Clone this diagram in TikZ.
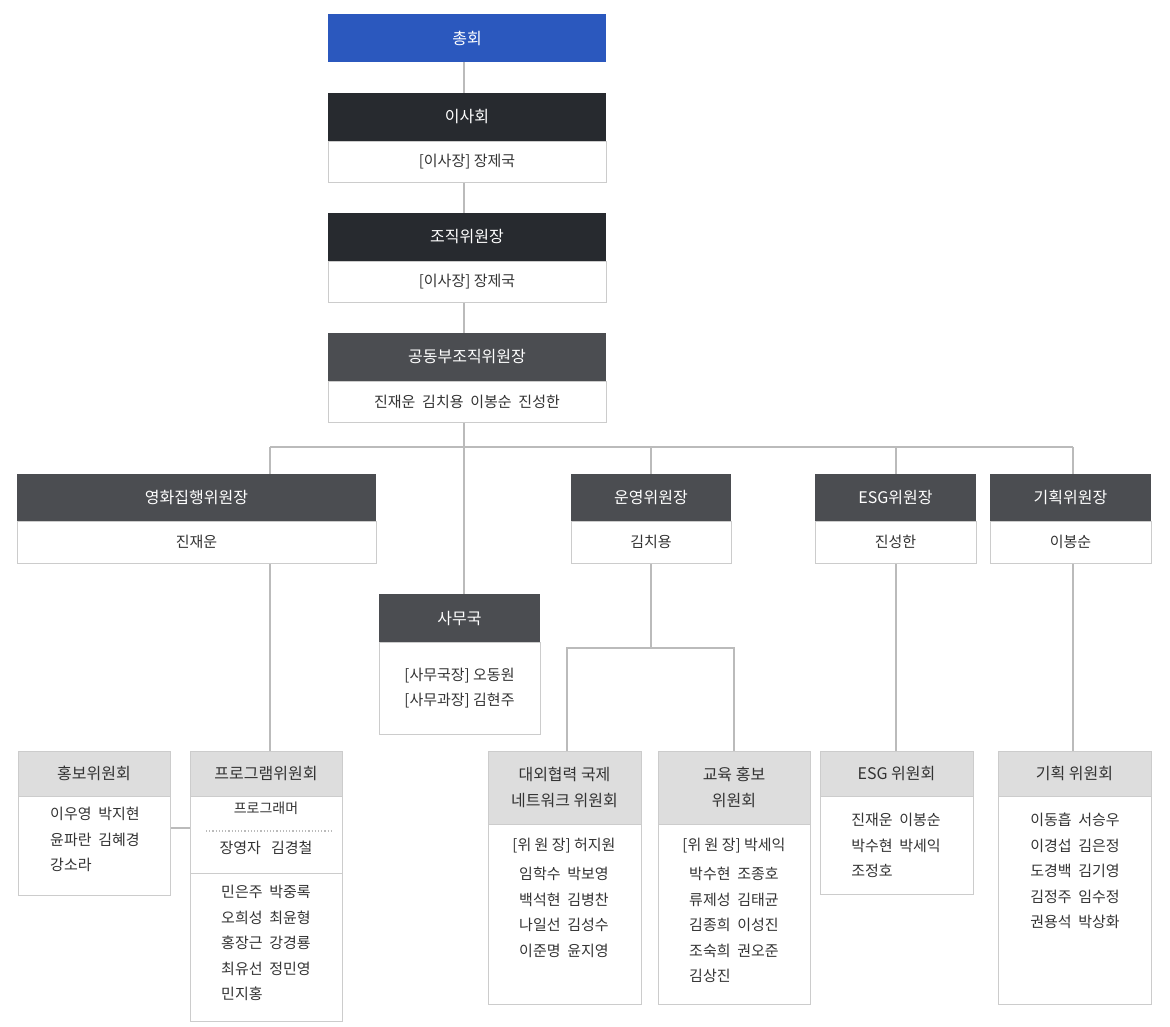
\documentclass[tikz,border=0pt]{standalone}
\usepackage{fontspec}
\setmainfont{Noto Sans CJK KR}
\definecolor{cblue}{HTML}{2B58BE}
\definecolor{cdark}{HTML}{272A2F}
\definecolor{cmid}{HTML}{4B4D51}
\definecolor{chead}{HTML}{DDDDDD}
\definecolor{cbord}{HTML}{CCCCCC}
\definecolor{cline}{HTML}{BBBBBB}
\definecolor{ctext}{HTML}{333333}
\begin{document}
\begin{tikzpicture}[x=1pt,y=-1pt,
  bx/.style={draw=cbord,line width=0.8pt,anchor=north west,inner sep=0pt,outer sep=0pt,align=center,text=ctext,font=\fontsize{15}{25.5}\selectfont},
  hd/.style={bx,draw=none,text=white,font=\fontsize{16}{24}\selectfont},
  gh/.style={bx,fill=chead,draw=cbord,font=\fontsize{16}{26}\selectfont},
  txt/.style={anchor=north,inner sep=0pt,align=left,text=ctext,font=\fontsize{15}{25.5}\selectfont},
  ln/.style={draw=cline,line width=1.6pt}]
\useasboundingbox[fill=white] (0,0) rectangle (1170,1026);
% connectors first
\coordinate (h1) at (270,447); \coordinate (h2) at (1073,447);
\draw[ln] (464,62) -- (464,594);
\draw[ln] (h1) -- (h2);
\draw[ln] (h1) -- (270,751);
\draw[ln] (651,447) -- (651,648);
\draw[ln] (567,751) -- (567,648) -- (734,648) -- (734,751);
\draw[ln] (896,447) -- (896,751);
\draw[ln] (1073,447) -- (1073,751);
\draw[ln] (170,828) -- (190,828);
% top chain
\node[hd,fill=cblue,minimum width=278,minimum height=48] (chonghoe) at (328,14) {총회};
\node[hd,fill=cdark,minimum width=278,minimum height=48] (isa) at (328,93) {이사회};
\node[bx,fill=white,minimum width=278,minimum height=41] (isab) at (328,141) {[이사장] 장제국};
\node[hd,fill=cdark,minimum width=278,minimum height=48] (jojik) at (328,213) {조직위원장};
\node[bx,fill=white,minimum width=278,minimum height=41] (jojikb) at (328,261) {[이사장] 장제국};
\node[hd,fill=cmid,minimum width=278,minimum height=48] (gong) at (328,333) {공동부조직위원장};
\node[bx,fill=white,minimum width=278,minimum height=41] (gongb) at (328,381) {진재운\ \ 김치용\ \ 이봉순\ \ 진성한};
% second level
\node[hd,fill=cmid,minimum width=359,minimum height=47] (yh) at (17,474) {영화집행위원장};
\node[bx,fill=white,minimum width=359,minimum height=42] (yhb) at (17,521) {진재운};
\node[hd,fill=cmid,minimum width=160,minimum height=47] (uy) at (571,474) {운영위원장};
\node[bx,fill=white,minimum width=160,minimum height=42] (uyb) at (571,521) {김치용};
\node[hd,fill=cmid,minimum width=161,minimum height=47] (esg) at (815,474) {ESG위원장};
\node[bx,fill=white,minimum width=161,minimum height=42] (esgb) at (815,521) {진성한};
\node[hd,fill=cmid,minimum width=161,minimum height=47] (gh) at (990,474) {기획위원장};
\node[bx,fill=white,minimum width=161,minimum height=42] (ghb) at (990,521) {이봉순};
\node[hd,fill=cmid,minimum width=161,minimum height=48] (sm) at (379,594) {사무국};
\node[bx,fill=white,minimum width=161,minimum height=92] (smb) at (379,642) {[사무국장] 오동원\\[0pt][사무과장] 김현주};
% bottom committees
\node[gh,minimum width=152,minimum height=45] (hb) at (18,751) {홍보위원회};
\node[bx,fill=white,minimum width=152,minimum height=99] (hbb) at (18,796) {};
\node[txt] at (95,807) {이우영\ \ 박지현\\윤파란\ \ 김혜경\\강소라};

\node[gh,minimum width=152,minimum height=45] (pg) at (190,751) {프로그램위원회};
\node[bx,fill=white,minimum width=152,minimum height=77] (pgb) at (190,796) {};
\node[txt,font=\fontsize{14}{20}\selectfont] at (266,802) {프로그래머};
\draw[cline,line width=1.2pt,dotted] (206,831) -- (331,831);
\node[txt] at (266,841) {장영자\ \ \ 김경철};
\node[bx,fill=white,minimum width=152,minimum height=148] (pgc) at (190,873) {};
\node[txt] at (266,885) {민은주\ \ 박중록\\오희성\ \ 최윤형\\홍장근\ \ 강경룡\\최유선\ \ 정민영\\민지홍};

\node[gh,minimum width=153,minimum height=73] (dw) at (488,751) {대외협력 국제\\네트워크 위원회};
\node[bx,fill=white,minimum width=153,minimum height=180] (dwb) at (488,824) {};
\node[txt,align=center] at (564,838) {[위 원 장] 허지원};
\node[txt] at (564,867) {임학수\ \ 박보영\\백석현\ \ 김병찬\\나일선\ \ 김성수\\이준명\ \ 윤지영};

\node[gh,minimum width=152,minimum height=73] (gy) at (658,751) {교육 홍보\\위원회};
\node[bx,fill=white,minimum width=152,minimum height=180] (gyb) at (658,824) {};
\node[txt,align=center] at (734,838) {[위 원 장] 박세익};
\node[txt] at (734,867) {박수현\ \ 조종호\\류제성\ \ 김태균\\김종희\ \ 이성진\\조숙희\ \ 권오준\\김상진};

\node[gh,minimum width=153,minimum height=45] (ew) at (820,751) {ESG 위원회};
\node[bx,fill=white,minimum width=153,minimum height=98] (ewb) at (820,796) {};
\node[txt] at (896,813) {진재운\ \ 이봉순\\박수현\ \ 박세익\\조정호};

\node[gh,minimum width=153,minimum height=45] (gw) at (998,751) {기획 위원회};
\node[bx,fill=white,minimum width=153,minimum height=208] (gwb) at (998,796) {};
\node[txt] at (1075,813) {이동흡\ \ 서승우\\이경섭\ \ 김은정\\도경백\ \ 김기영\\김정주\ \ 임수정\\권용석\ \ 박상화};
\end{tikzpicture}
\end{document}
